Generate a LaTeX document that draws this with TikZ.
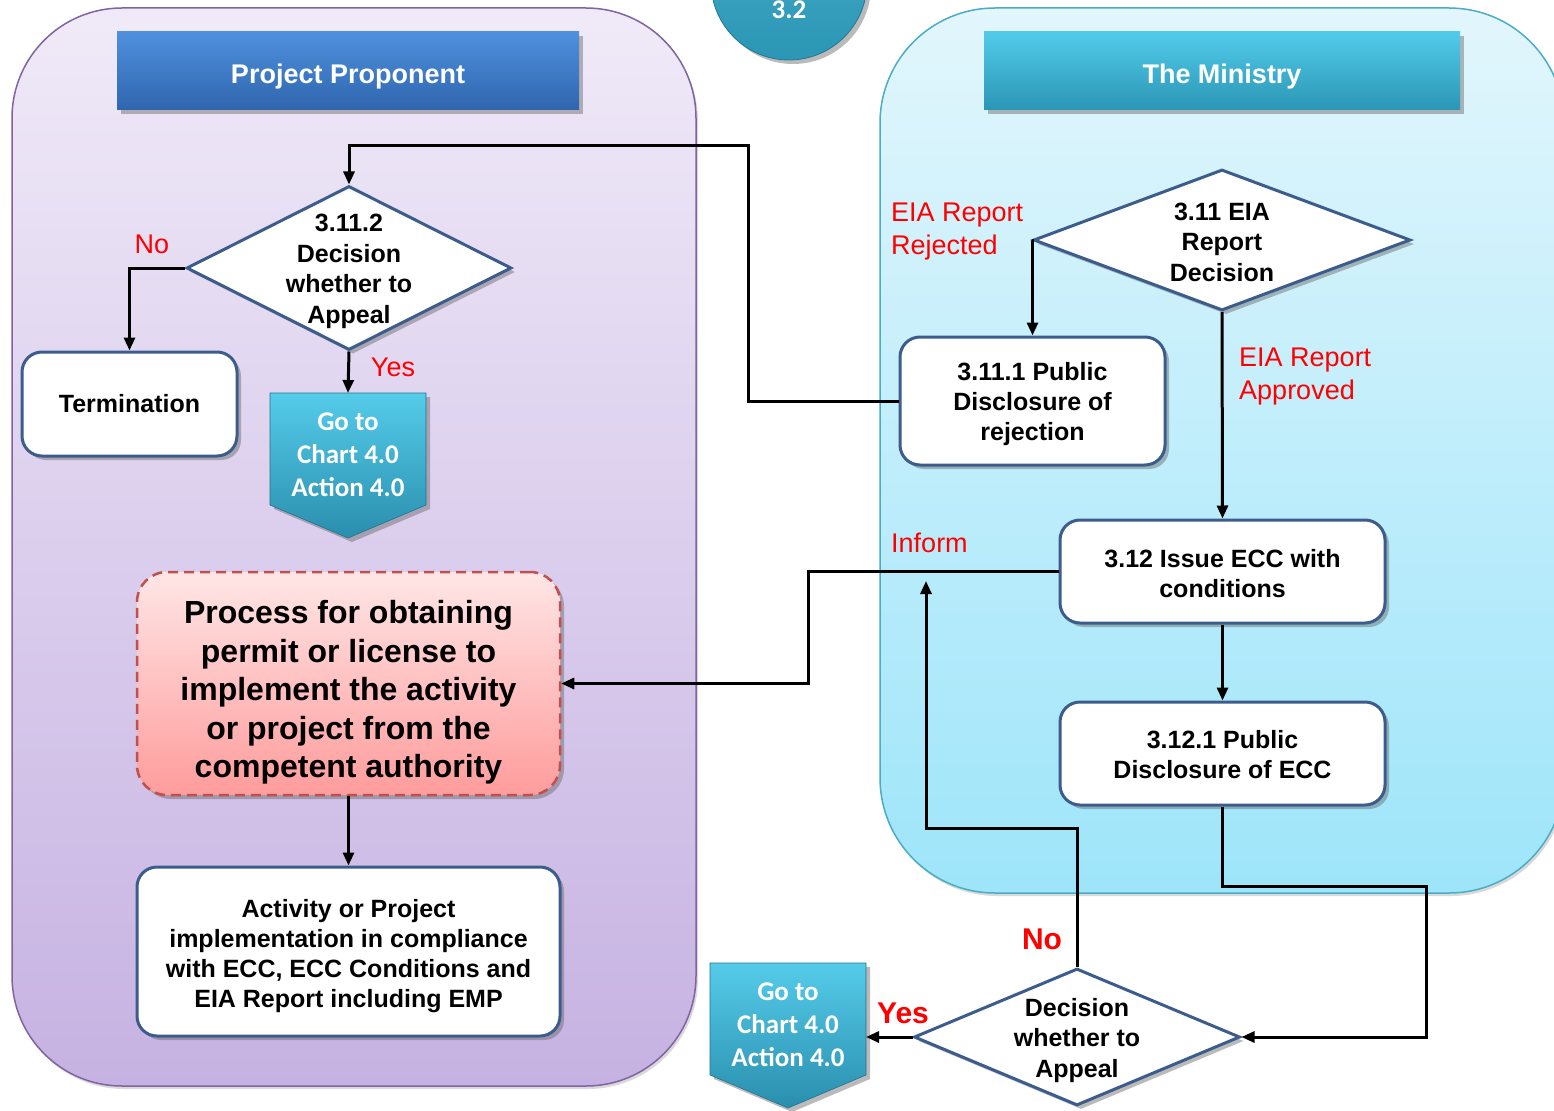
\documentclass[tikz,border=0pt]{standalone}
\usepackage{fontspec}
\setmainfont{Liberation Sans}
\newfontfamily\calfont{Carlito}
\usetikzlibrary{shapes.geometric,shadows,arrows.meta,backgrounds,calc}

\definecolor{laneLdraw}{HTML}{8064A2}
\definecolor{laneLtop}{HTML}{F0EAF8}
\definecolor{laneLbot}{HTML}{C6B2E2}
\definecolor{laneRdraw}{HTML}{4BACC6}
\definecolor{laneRtop}{HTML}{E2F6FC}
\definecolor{laneRbot}{HTML}{9EE5FA}
\definecolor{hdrBtop}{HTML}{4F90DE}
\definecolor{hdrBbot}{HTML}{2F66AE}
\definecolor{hdrTtop}{HTML}{52CBEA}
\definecolor{hdrTbot}{HTML}{2B96B5}
\definecolor{boxline}{HTML}{3C5D8C}
\definecolor{procline}{HTML}{C0504D}
\definecolor{proctop}{HTML}{FFE6E6}
\definecolor{procbot}{HTML}{FF9C9C}
\definecolor{gotop}{HTML}{55CCEA}
\definecolor{gobot}{HTML}{2A8EAE}
\definecolor{labelred}{HTML}{FF0000}

% invisible strut on a first line, to push a text block a little down
\newcommand\toppad[1]{\rule{0pt}{#1}}

\begin{document}
\begin{tikzpicture}[x=1pt,y=-1pt,
  shade/.style={drop shadow={shadow xshift=4pt,shadow yshift=-4pt,opacity=0.45,fill=black!60}},
  conn/.style={line width=3pt,-{Triangle[length=13pt,width=11pt]}},
  hdr/.style={rectangle,minimum height=78pt,inner sep=0pt,shade,
    execute at begin node={\toppad{30pt}},
    text=white,font=\fontsize{27}{32}\selectfont\bfseries},
  stepbox/.style={rectangle,rounded corners=20pt,draw=boxline,line width=3pt,
    fill=white,shade,align=center,inner sep=0pt,
    font=\fontsize{25}{30}\selectfont\bfseries},
  decision/.style={diamond,draw=boxline,line width=3pt,fill=white,shade,
    inner sep=0pt},
  dectext/.style={align=center,inner sep=0pt,
    font=\fontsize{25}{30.5}\selectfont\bfseries},
  gotext/.style={rectangle,minimum width=156pt,minimum height=112pt,inner sep=0pt,
    outer sep=0pt,align=center,text=white,
    font=\calfont\fontsize{27}{33}\selectfont\bfseries},
  goshape/.style={top color=gotop,bottom color=gobot,draw=gobot!80!black,
    line width=0.6pt,shade},
  redlbl/.style={text=labelred,inner sep=0pt,align=left,
    font=\fontsize{27}{33}\selectfont},
  redbold/.style={text=labelred,inner sep=0pt,
    font=\fontsize{30}{36}\selectfont\bfseries}
]
\useasboundingbox (0,0) rectangle (1554,1110);

% swimlanes
\begin{scope}[on background layer]
  \path[draw=laneLdraw,line width=1.5pt,top color=laneLtop,bottom color=laneLbot,
        rounded corners=110pt,
        drop shadow={shadow xshift=2pt,shadow yshift=-3pt,opacity=0.3}]
    (12,8) rectangle (696,1086);
  \path[draw=laneRdraw,line width=1.5pt,top color=laneRtop,bottom color=laneRbot,
        rounded corners=115pt,
        drop shadow={shadow xshift=2pt,shadow yshift=-3pt,opacity=0.3}]
    (880,8) rectangle (1564,893);
\end{scope}

% chart badge
\node[circle,minimum size=156pt,top color=hdrTtop!85!black,bottom color=hdrTbot,
      draw=hdrTbot!80!black,line width=0.8pt,shade] (badge) at (789,-18) {};
\node[text=white,inner sep=0pt,font=\calfont\fontsize{27}{32}\selectfont\bfseries]
  (badgetext) at (789,10) {3.2};

% lane headers
\node[hdr,minimum width=462pt,top color=hdrBtop,bottom color=hdrBbot] (hdrpp) at (348,71)
  {Project Proponent};
\node[hdr,minimum width=476pt,top color=hdrTtop,bottom color=hdrTbot] (hdrmin) at (1222,71)
  {The Ministry};

% Project Proponent lane
\node[decision,minimum width=325pt,minimum height=164pt] (d1) at (349,268) {};
\node[dectext] (d1t) at (349,271.5) {3.11.2\\Decision\\whether to\\Appeal};
\node[stepbox,minimum width=215pt,minimum height=104pt] (term) at (129.5,404) {Termination};
\node[gotext] (g1) at (348,449) {\toppad{29pt}Go to\\Chart 4.0\\Action 4.0};
\node[rectangle,rounded corners=30pt,draw=procline,line width=2.5pt,
      dash pattern=on 10pt off 6pt,top color=proctop,bottom color=procbot,shade,
      minimum width=423pt,minimum height=223pt,align=center,inner sep=0pt,
      font=\fontsize{32}{38.5}\selectfont\bfseries] (proc) at (348.5,683.5)
  {\toppad{41pt}Process for obtaining\\permit or license to\\implement the activity\\or project from the\\competent authority};
\node[stepbox,minimum width=423pt,minimum height=169pt] (act) at (348.5,951.5)
  {\toppad{28pt}Activity or Project\\implementation in compliance\\with ECC, ECC Conditions and\\EIA Report including EMP};

% Ministry lane
\node[decision,minimum width=377pt,minimum height=141pt] (d2) at (1222,240) {};
\node[dectext] (d2t) at (1222,242) {3.11 EIA\\Report\\Decision};
\node[stepbox,minimum width=265pt,minimum height=128pt] (b3111) at (1032.5,401)
  {\toppad{24pt}3.11.1 Public\\Disclosure of\\rejection};
\node[stepbox,minimum width=325pt,minimum height=103pt] (b312) at (1222.5,571.5)
  {\toppad{22pt}3.12 Issue ECC with\\conditions};
\node[stepbox,minimum width=325pt,minimum height=103pt] (b3121) at (1222.5,753.5)
  {\toppad{20pt}3.12.1 Public\\Disclosure of ECC};

% appeal decision below the lanes
\node[decision,minimum width=326pt,minimum height=137pt] (d3) at (1077,1037) {};
\node[dectext] (d3t) at (1077,1040.5) {Decision\\whether to\\Appeal};
\node[gotext] (g2) at (788,1019) {\toppad{29pt}Go to\\Chart 4.0\\Action 4.0};

% go-to arrow shapes
\begin{scope}[on background layer]
  \path[goshape] (g1.north west) -- (g1.north east) -- (g1.south east)
    -- ($(g1.south)+(0,33)$) -- (g1.south west) -- cycle;
  \path[goshape] (g2.north west) -- (g2.north east) -- (g2.south east)
    -- ($(g2.south)+(0,33)$) -- (g2.south west) -- cycle;
\end{scope}

% labels
\node[redlbl,anchor=west] (lrej) at (891,231.5) {EIA Report\\Rejected};
\node[redlbl,anchor=west] (lapp) at (1239,376.5) {EIA Report\\Approved};
\node[redlbl,anchor=west] (linf) at (891,543) {Inform};
\node[redlbl] (lno1) at (152,244) {No};
\node[redlbl] (lyes1) at (393,367) {Yes};
\node[redbold] (lno2) at (1042,939) {No};
\node[redbold] (lyes2) at (903,1013) {Yes};

% connectors
\draw[conn] (d1.west) -| (term.north);
\draw[conn] (d1.south) -- (g1.north);
\draw[conn] (b3111.west) -- ++(-150,0) -- ++(0,-255) -| (d1.north);
\draw[conn] (d2.west) -| (b3111.north);
\draw[conn] (d2.south) -- (b312.north);
\draw[conn] (b312.south) -- (b3121.north);
\draw[conn] (b312.west) -- ++(-250,0) |- (proc.east);
\draw[conn] (proc.south) -- (act.north);
\draw[conn] (b3121.south) -- ++(0,80) -| ($(d3.east)+(185,0)$) -- (d3.east);
\coordinate (noend) at (926,581);
\draw[conn] (d3.north) -- ++(0,-139) -| (noend);
\draw[conn] (d3.west) -- (d3.west -| g2.east);
\end{tikzpicture}
\end{document}
